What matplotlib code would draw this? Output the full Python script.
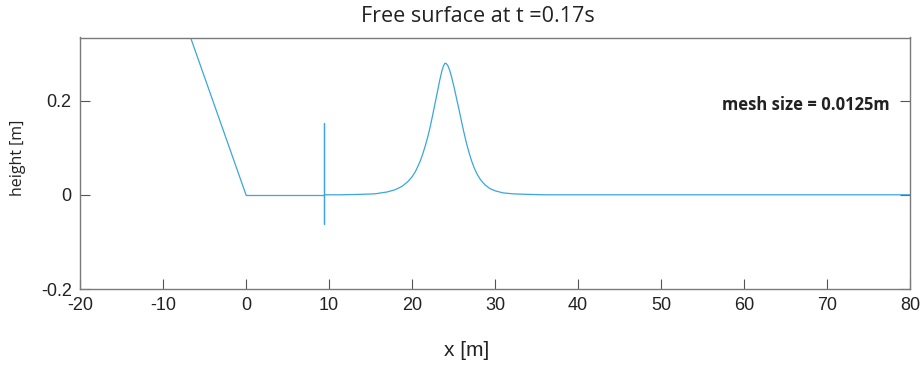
import matplotlib
matplotlib.use("Agg")
import matplotlib.pyplot as plt

# Free-surface profile
x_beach = [-20.0, 0.0]
y_beach = [1.0, 0.0]

x_spike = [0.0, 9.45, 9.45, 9.45, 9.45]
y_spike = [0.0, 0.0, 0.152, -0.062, 0.0]

x_wave = [9.45, 11.4, 13.8, 15.5, 17.0, 18.0, 18.8, 19.5, 20.0, 20.4, 20.7, 21.0, 21.3,
          21.6, 21.9, 22.2, 22.5, 22.8, 23.1, 23.35, 23.6, 23.8, 23.95, 24.1, 24.3,
          24.55, 24.8, 25.1, 25.4, 25.7, 26.0, 26.3, 26.6, 26.9, 27.2, 27.5, 27.9,
          28.3, 28.8, 29.4, 30.1, 31.0, 32.2, 33.8, 36.0, 80.0]
y_wave = [0.0, 0.0, 0.001, 0.002, 0.006, 0.011, 0.018, 0.028, 0.038, 0.049, 0.060, 0.072, 0.087,
          0.104, 0.123, 0.145, 0.170, 0.196, 0.222, 0.244, 0.263, 0.274, 0.279, 0.279, 0.275,
          0.264, 0.248, 0.226, 0.202, 0.178, 0.153, 0.129, 0.107, 0.088, 0.071, 0.057, 0.042,
          0.031, 0.021, 0.013, 0.008, 0.004, 0.002, 0.001, 0.0, 0.0]

x_ticks = [-20, -10, 0, 10, 20, 30, 40, 50, 60, 70, 80]
y_ticks = [-0.2, 0, 0.2]
y_ticklabels = ["-0.2", "0", "0.2"]

title = "Free surface at t =0.17s"
note = "mesh size = 0.0125m"

fig = plt.figure(figsize=(9.23, 3.67), dpi=100)
ax = fig.add_axes([80 / 923, 1 - 289 / 367, (910 - 80) / 923, (289 - 37.5) / 367])

line_color = "#3aa6dc"
ax.plot(x_beach, y_beach, color=line_color, lw=0.9)
ax.plot(x_spike, y_spike, color=line_color, lw=0.9)
ax.plot(x_wave, y_wave, color=line_color, lw=0.9)

ax.set_xlim(-20, 80)
ax.set_ylim(-0.2, 0.334)
ax.set_xticks(x_ticks)
ax.set_xticklabels([str(v) for v in x_ticks], fontfamily="Liberation Sans", fontsize=13)
ax.set_yticks(y_ticks)
ax.set_yticklabels(y_ticklabels, fontfamily="Liberation Sans", fontsize=13)

ax.tick_params(axis="both", direction="in", length=7, width=0.8, color="#555555",
               labelcolor="#222222")
ax.tick_params(axis="x", pad=6, top=False)
ax.tick_params(axis="y", pad=6, right=True)
for s in ax.spines.values():
    s.set_color("#7a7a7a")
    s.set_linewidth(1.0)

ax.set_xlabel("x [m]", fontfamily="Liberation Sans", fontsize=15, color="#222222")
ax.xaxis.set_label_coords((467 - 80) / 830, (289 - 350) / 251.5)
ax.xaxis.label.set_va("center")
ax.set_ylabel("height [m]", fontfamily="Open Sans", fontsize=11.5, color="#222222")
ax.yaxis.set_label_coords((18 - 80) / 830, 0.52)
ax.yaxis.label.set_va("center")

fig.text(478 / 923, 1 - 16 / 367, title, ha="center", va="center",
         fontfamily="Open Sans", fontsize=15.5, color="#222222")
ax.text(77.6, 0.191, note, ha="right", va="center", fontfamily="Open Sans",
        fontweight="bold", fontsize=12, color="#222222")

fig.savefig("out.png", dpi=100)
